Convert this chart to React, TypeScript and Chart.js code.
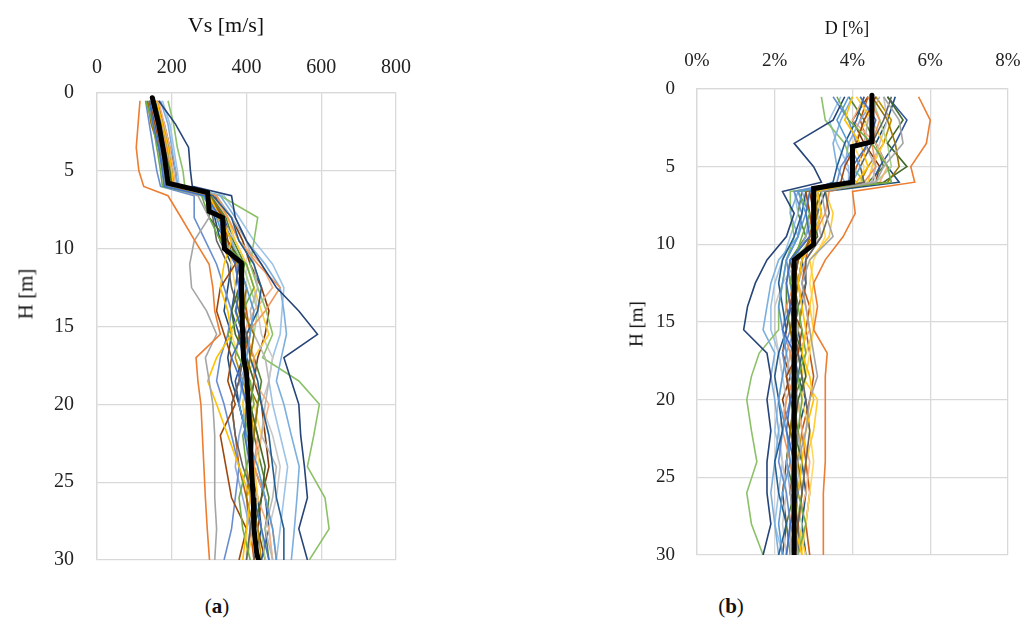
import React, { useEffect, useRef } from 'react';
import { Chart, registerables } from 'chart.js';
Chart.register(...registerables);

// Depth grid shared by all realizations [m]
const depths = [0.5, 2, 3.5, 5, 6, 6.6, 8, 9.5, 11, 12.5, 14, 15.5, 17, 18.5, 20, 22, 24, 26, 28, 30];

const colors = [
  '#4472C4', '#ED7D31', '#A5A5A5', '#FFC000', '#5B9BD5', '#70AD47', '#264478', '#9E480E', '#636363',
  '#997300', '#255E91', '#43682B', '#698ED0', '#F1975A', '#B7B7B7', '#FFCD33', '#7CAFDD', '#8CC168',
  '#8FAADC', '#F4B183', '#C9C9C9', '#FFD966', '#9DC3E6', '#A9D18E', '#2F5597', '#C55A11',
  '#BF9000', '#548235', '#1F4E79', '#843C0C',
];

// Vs realizations [m/s]
const vs01 = [140, 150, 165, 175, 180, 290, 330, 335, 370, 380, 372, 390, 360, 385, 400, 395, 410, 420, 440, 460];
const vs02 = [115, 110, 105, 112, 125, 190, 225, 262, 300, 310, 315, 330, 265, 270, 278, 282, 286, 290, 295, 301];
const vs03 = [150, 165, 175, 185, 190, 270, 300, 260, 248, 253, 293, 320, 290, 300, 310, 315, 315, 315, 320, 315];
const vs04 = [160, 175, 190, 200, 205, 300, 330, 360, 340, 330, 350, 360, 320, 296, 320, 350, 380, 410, 400, 390];
const vs05 = [145, 160, 170, 180, 185, 285, 320, 340, 380, 400, 420, 410, 400, 390, 380, 400, 430, 450, 470, 480];
const vs06 = [130, 150, 160, 170, 175, 280, 300, 330, 400, 420, 390, 350, 380, 410, 420, 390, 400, 380, 390, 410];
const vs07 = [165, 210, 245, 250, 255, 360, 370, 400, 440, 480, 540, 590, 500, 520, 540, 545, 555, 563, 540, 563];
const vs08 = [140, 155, 170, 185, 190, 290, 340, 350, 370, 330, 320, 340, 360, 350, 370, 330, 345, 360, 400, 380];
const vs09 = [150, 170, 180, 190, 195, 300, 310, 320, 350, 360, 380, 400, 390, 380, 360, 370, 390, 420, 410, 400];
const vs10 = [135, 145, 165, 180, 185, 300, 340, 330, 380, 400, 390, 420, 410, 400, 430, 420, 410, 400, 420, 430];
const vs11 = [155, 175, 190, 200, 205, 310, 360, 380, 420, 440, 430, 400, 410, 430, 440, 460, 470, 480, 500, 500];
const vs12 = [145, 165, 180, 195, 200, 300, 300, 350, 390, 380, 360, 370, 400, 420, 410, 430, 450, 440, 420, 430];
const vs13 = [130, 140, 150, 160, 170, 260, 260, 290, 320, 340, 360, 350, 330, 320, 340, 360, 380, 370, 360, 340];
const vs14 = [160, 170, 185, 195, 200, 320, 350, 380, 430, 490, 450, 400, 420, 420, 410, 430, 420, 450, 470, 480];
const vs15 = [155, 175, 190, 200, 205, 320, 360, 400, 420, 430, 410, 420, 450, 460, 450, 440, 480, 470, 450, 470];
const vs16 = [150, 165, 180, 190, 195, 320, 350, 370, 400, 420, 440, 460, 420, 400, 390, 410, 420, 430, 420, 400];
const vs17 = [170, 190, 200, 210, 215, 330, 370, 400, 450, 490, 500, 507, 493, 480, 500, 520, 541, 535, 528, 520];
const vs18 = [190, 205, 215, 230, 235, 330, 430, 420, 410, 430, 453, 470, 443, 540, 595, 580, 563, 610, 621, 568];
const vs19 = [140, 155, 165, 175, 180, 280, 330, 360, 380, 390, 380, 400, 410, 380, 400, 380, 370, 390, 410, 400];
const vs20 = [165, 180, 195, 205, 210, 310, 350, 380, 440, 470, 420, 390, 400, 420, 460, 440, 420, 430, 460, 470];
const vs21 = [145, 160, 175, 185, 190, 290, 330, 370, 400, 420, 430, 440, 470, 460, 440, 470, 490, 480, 460, 470];
const vs22 = [140, 150, 160, 175, 180, 290, 320, 350, 360, 370, 380, 360, 380, 410, 420, 440, 430, 410, 400, 400];
const vs23 = [175, 195, 205, 215, 220, 340, 380, 420, 470, 500, 495, 490, 470, 460, 470, 490, 510, 500, 490, 480];
const vs24 = [150, 170, 180, 195, 200, 300, 330, 360, 390, 410, 430, 420, 410, 400, 390, 400, 410, 420, 440, 450];
const vs25 = [145, 160, 170, 180, 185, 300, 340, 360, 380, 370, 360, 380, 390, 370, 380, 400, 420, 450, 460, 440];
const vs26 = [150, 165, 180, 190, 195, 300, 330, 360, 370, 380, 400, 410, 390, 380, 360, 370, 380, 400, 410, 420];
const vs27 = [135, 150, 170, 185, 190, 295, 325, 345, 375, 390, 400, 380, 370, 390, 410, 420, 400, 410, 430, 440];
const vs28 = [155, 170, 185, 195, 200, 305, 345, 365, 395, 385, 370, 390, 420, 440, 430, 420, 440, 460, 450, 460];
const vs29 = [150, 160, 175, 185, 190, 290, 315, 330, 360, 350, 340, 360, 350, 360, 380, 400, 410, 430, 440, 420];
const vs30 = [160, 180, 195, 210, 215, 315, 360, 390, 410, 440, 460, 450, 430, 420, 440, 450, 460, 440, 430, 450];
const vsSeries = [vs01, vs02, vs03, vs04, vs05, vs06, vs07, vs08, vs09, vs10, vs11, vs12, vs13, vs14, vs15,
  vs16, vs17, vs18, vs19, vs20, vs21, vs22, vs23, vs24, vs25, vs26, vs27, vs28, vs29, vs30];

// Mean Vs profile
const vsMeanDepth = [0.3, 2, 4, 5.8, 6.4, 7.6, 8, 10, 10.9, 13, 15, 17, 18, 20, 22, 24, 26, 28, 29.5, 30];
const vsMeanValue = [148, 165, 180, 190, 296, 300, 336, 341, 386, 387, 389, 392, 400, 405, 410, 413, 418, 420, 427, 432];

// Damping realizations [%]
const d01 = [4.2, 4.6, 4.4, 4.0, 3.9, 2.9, 2.8, 2.9, 2.4, 2.3, 2.4, 2.2, 2.5, 2.6, 2.4, 2.3, 2.5, 2.6, 2.4, 2.3];
const d02 = [5.7, 6.0, 5.9, 5.5, 5.6, 4.0, 4.07, 3.76, 3.3, 3.0, 3.1, 3.0, 3.35, 3.3, 3.3, 3.3, 3.3, 3.25, 3.25, 3.25];
const d03 = [4.8, 5.2, 5.3, 4.8, 4.6, 3.2, 3.3, 3.5, 2.9, 2.7, 2.8, 2.9, 3.0, 3.1, 2.9, 2.8, 2.6, 2.4, 2.5, 2.6];
const d04 = [4.0, 3.8, 4.2, 4.4, 4.1, 3.1, 3.2, 3.0, 2.7, 2.6, 2.7, 2.8, 2.7, 2.9, 3.0, 2.8, 2.7, 2.6, 2.5, 2.7];
const d05 = [3.9, 3.6, 3.9, 4.2, 4.0, 2.6, 2.8, 2.6, 2.3, 2.2, 2.1, 2.2, 2.3, 2.2, 2.1, 2.3, 2.4, 2.2, 2.1, 2.2];
const d06 = [3.6, 3.9, 4.5, 4.9, 5.0, 2.6, 2.9, 2.7, 2.5, 2.4, 2.6, 2.7, 2.8, 2.6, 2.7, 2.6, 2.5, 2.6, 2.8, 2.6];
const d07 = [3.8, 3.5, 2.5, 3.0, 3.2, 2.2, 2.5, 2.3, 1.8, 1.5, 1.3, 1.2, 1.8, 1.9, 1.8, 1.9, 1.8, 1.8, 1.9, 1.7];
const d08 = [4.6, 4.3, 4.1, 3.8, 3.7, 2.8, 2.9, 3.0, 2.6, 2.5, 2.4, 2.7, 2.6, 2.3, 2.4, 2.6, 2.5, 2.4, 2.6, 2.5];
const d09 = [5.0, 4.8, 4.5, 4.2, 4.3, 3.3, 3.4, 3.2, 2.8, 2.8, 2.6, 2.5, 2.6, 2.7, 2.8, 2.9, 2.8, 2.7, 2.6, 2.6];
const d10 = [4.5, 4.9, 5.1, 5.2, 4.9, 3.0, 3.1, 2.9, 2.7, 2.6, 2.5, 2.4, 2.5, 2.6, 2.5, 2.4, 2.6, 2.7, 2.6, 2.5];
const d11 = [4.3, 4.1, 3.8, 3.6, 3.5, 2.8, 2.7, 2.5, 2.2, 2.1, 2.2, 2.3, 2.1, 2.0, 2.1, 2.2, 2.0, 2.1, 2.3, 2.1];
const d12 = [4.9, 5.3, 4.9, 5.4, 4.8, 3.2, 3.0, 3.1, 2.6, 2.5, 2.6, 2.5, 2.7, 2.8, 2.6, 2.5, 2.7, 2.6, 2.5, 2.6];
const d13 = [3.5, 3.9, 4.1, 3.7, 3.6, 2.5, 2.7, 2.6, 2.3, 2.4, 2.5, 2.4, 2.2, 2.3, 2.4, 2.2, 2.1, 2.3, 2.4, 2.3];
const d14 = [4.4, 4.7, 4.5, 4.6, 4.3, 3.4, 3.3, 3.0, 2.6, 2.5, 2.3, 2.2, 2.4, 2.5, 2.3, 2.2, 2.4, 2.5, 2.4, 2.6];
const d15 = [4.7, 4.4, 4.3, 4.6, 4.5, 3.0, 3.0, 3.2, 2.8, 2.6, 2.5, 2.6, 2.4, 2.3, 2.5, 2.6, 2.7, 2.5, 2.4, 2.4];
const d16 = [4.1, 4.5, 4.8, 4.5, 4.4, 3.3, 3.5, 3.4, 2.9, 3.0, 2.9, 3.0, 2.8, 2.7, 3.1, 3.0, 2.8, 2.7, 2.6, 2.8];
const d17 = [4.0, 3.7, 3.5, 3.6, 3.8, 2.6, 2.4, 2.6, 2.1, 1.9, 1.8, 1.7, 2.0, 1.9, 2.0, 2.1, 2.0, 1.9, 2.0, 2.1];
const d18 = [3.2, 3.3, 3.8, 4.0, 4.3, 2.4, 2.4, 2.5, 2.3, 2.2, 2.1, 2.1, 1.6, 1.4, 1.28, 1.4, 1.54, 1.28, 1.4, 1.7];
const d19 = [4.6, 4.2, 3.9, 3.8, 4.1, 2.7, 2.9, 2.8, 2.5, 2.4, 2.6, 2.5, 2.3, 2.4, 2.6, 2.5, 2.3, 2.4, 2.5, 2.4];
const d20 = [4.3, 4.0, 4.6, 4.9, 4.7, 2.8, 2.9, 3.1, 2.7, 2.6, 2.8, 2.9, 2.6, 2.5, 2.6, 2.7, 2.9, 2.8, 2.6, 2.5];
const d21 = [4.8, 4.9, 4.7, 4.5, 4.6, 3.1, 3.1, 3.2, 2.6, 2.2, 2.0, 2.0, 2.1, 2.2, 2.3, 2.1, 2.2, 2.3, 2.2, 2.3];
const d22 = [4.2, 4.4, 4.0, 4.3, 4.2, 3.0, 3.2, 3.3, 3.0, 2.9, 3.0, 3.0, 2.9, 2.8, 2.7, 2.9, 3.0, 2.9, 2.8, 2.7];
const d23 = [3.7, 3.4, 3.6, 3.9, 3.9, 2.5, 2.6, 2.4, 2.2, 2.0, 1.9, 1.9, 2.1, 2.2, 2.1, 2.0, 2.2, 2.1, 2.0, 2.2];
const d24 = [4.5, 4.7, 4.9, 5.0, 4.6, 2.9, 2.8, 3.0, 2.5, 2.4, 2.5, 2.6, 2.4, 2.5, 2.4, 2.5, 2.6, 2.5, 2.7, 2.6];
const d25 = [4.9, 5.4, 5.1, 4.7, 4.5, 3.1, 3.2, 3.0, 2.7, 2.6, 2.4, 2.5, 2.6, 2.5, 2.4, 2.6, 2.5, 2.4, 2.5, 2.4];
const d26 = [4.4, 4.2, 4.4, 4.1, 4.0, 3.0, 3.1, 2.9, 2.8, 2.7, 2.9, 2.8, 2.9, 3.0, 2.9, 2.7, 2.8, 2.9, 2.8, 2.9];
const d27 = [4.6, 5.0, 4.8, 4.4, 4.2, 3.1, 3.0, 2.8, 2.5, 2.6, 2.7, 2.6, 2.5, 2.4, 2.6, 2.7, 2.6, 2.5, 2.6, 2.7];
const d28 = [3.9, 4.3, 4.6, 4.8, 4.4, 2.7, 2.6, 2.8, 2.4, 2.3, 2.3, 2.4, 2.6, 2.7, 2.5, 2.4, 2.3, 2.5, 2.3, 2.4];
const d29 = [5.1, 4.9, 4.6, 4.9, 5.2, 3.3, 3.1, 3.0, 2.7, 2.8, 2.7, 2.6, 2.7, 2.6, 2.8, 2.6, 2.7, 2.8, 2.7, 2.8];
const d30 = [4.4, 4.0, 4.3, 4.7, 4.6, 2.9, 3.0, 2.9, 2.4, 2.5, 2.4, 2.3, 2.2, 2.4, 2.2, 2.4, 2.3, 2.2, 2.3, 2.2];
const dSeries = [d01, d02, d03, d04, d05, d06, d07, d08, d09, d10, d11, d12, d13, d14, d15,
  d16, d17, d18, d19, d20, d21, d22, d23, d24, d25, d26, d27, d28, d29, d30];

// Mean damping profile
const dMeanDepth = [0.4, 3.4, 3.7, 6.0, 6.4, 10.0, 11.0, 30];
const dMeanValue = [4.5, 4.5, 4.0, 4.0, 3.0, 3.0, 2.5, 2.5];

// Axis ticks
const depthTicks = [0, 5, 10, 15, 20, 25, 30];
const vsTicks = [0, 200, 400, 600, 800];
const dTicks = [0, 2, 4, 6, 8];

const FONT = "'Liberation Serif', 'Times New Roman', serif";
const GRID = '#d9d9d9';

type PanelProps = {
  left: number;
  width: number;
  height: number;
  series: number[][];
  meanDepth: number[];
  meanValue: number[];
  xTicks: number[];
  xFmt: (v: number) => string;
  yAxisWidth: number;
  xAxisHeight: number;
  padRight: number;
  padBottom: number;
  fontSize: number;
  yPad: number;
  xPad: number;
};

const zeroPad = (scale: any) => {
  scale.paddingTop = 0;
  scale.paddingBottom = 0;
  scale.paddingLeft = 0;
  scale.paddingRight = 0;
};

function Panel(p: PanelProps) {
  const ref = useRef<HTMLCanvasElement | null>(null);
  useEffect(() => {
    if (!ref.current) return;
    const datasets: any[] = [
      {
        label: 'mean',
        data: p.meanDepth.map((d, i) => ({ x: p.meanValue[i], y: d })),
        borderColor: '#000000',
        borderWidth: 5,
        borderCapStyle: 'round',
        borderJoinStyle: 'miter',
        pointRadius: 0,
        showLine: true,
        order: 0,
      },
    ];
    p.series.forEach((s, k) => {
      datasets.push({
        label: 'r' + (k + 1),
        data: depths.map((d, i) => ({ x: s[i], y: d })),
        borderColor: colors[k % colors.length],
        borderWidth: 1.6,
        pointRadius: 0,
        showLine: true,
        order: 1,
      });
    });
    const xmin = p.xTicks[0];
    const xmax = p.xTicks[p.xTicks.length - 1];
    const chart = new Chart(ref.current, {
      type: 'scatter',
      data: { datasets },
      options: {
        animation: false,
        responsive: true,
        maintainAspectRatio: false,
        layout: { padding: { left: 0, top: 0, right: p.padRight, bottom: p.padBottom } },
        plugins: { legend: { display: false }, tooltip: { enabled: false } },
        scales: {
          x: {
            type: 'linear',
            position: 'top',
            min: xmin,
            max: xmax,
            afterFit: (scale: any) => { scale.height = p.xAxisHeight; zeroPad(scale); },
            afterBuildTicks: (scale: any) => { scale.ticks = p.xTicks.map((v) => ({ value: v })); },
            ticks: {
              font: { family: FONT, size: p.fontSize },
              color: '#222',
              padding: p.xPad,
              callback: (v: any) => p.xFmt(Number(v)),
            },
            grid: { color: GRID, lineWidth: 1.3, drawTicks: false },
            border: { color: GRID, width: 1.3 },
          },
          y: {
            type: 'linear',
            reverse: true,
            min: 0,
            max: 30,
            afterFit: (scale: any) => { scale.width = p.yAxisWidth; zeroPad(scale); },
            afterBuildTicks: (scale: any) => { scale.ticks = depthTicks.map((v) => ({ value: v })); },
            ticks: {
              font: { family: FONT, size: p.fontSize },
              color: '#222',
              padding: p.yPad,
            },
            grid: { color: GRID, lineWidth: 1.3, drawTicks: false },
            border: { color: GRID, width: 1.3 },
          },
        },
      } as any,
    });
    return () => chart.destroy();
  }, []);
  return (
    <div style={{ position: 'absolute', left: p.left, top: 0, width: p.width, height: p.height }}>
      <canvas ref={ref} />
    </div>
  );
}

const txt = (extra: React.CSSProperties): React.CSSProperties => ({
  position: 'absolute',
  fontFamily: FONT,
  color: '#111',
  whiteSpace: 'nowrap',
  lineHeight: 1,
  ...extra,
});

export default function App() {
  return (
    <div style={{ position: 'absolute', left: 0, top: 0, width: 1036, height: 623, background: '#fff', overflow: 'hidden' }}>
      <Panel
        left={0}
        width={420}
        height={580}
        series={vsSeries}
        meanDepth={vsMeanDepth}
        meanValue={vsMeanValue}
        xTicks={vsTicks}
        xFmt={(v) => String(v)}
        yAxisWidth={97}
        xAxisHeight={93}
        padRight={24}
        padBottom={20}
        fontSize={20}
        yPad={23}
        xPad={13}
      />
      <Panel
        left={600}
        width={436}
        height={580}
        series={dSeries}
        meanDepth={dMeanDepth}
        meanValue={dMeanValue}
        xTicks={dTicks}
        xFmt={(v) => v + '%'}
        yAxisWidth={97}
        xAxisHeight={89}
        padRight={28}
        padBottom={25}
        fontSize={19}
        yPad={22}
        xPad={17}
      />
      {/* axis titles */}
      <div style={txt({ left: 226, top: 25, fontSize: 22, transform: 'translate(-50%, -50%)' })}>Vs [m/s]</div>
      <div style={txt({ left: 26, top: 294, fontSize: 21, transform: 'translate(-50%, -50%) rotate(-90deg)' })}>H [m]</div>
      <div style={txt({ left: 847, top: 28, fontSize: 18, transform: 'translate(-50%, -50%)' })}>D [%]</div>
      <div style={txt({ left: 636, top: 324, fontSize: 19, transform: 'translate(-50%, -50%) rotate(-90deg)' })}>H [m]</div>
      {/* panel labels */}
      <div style={txt({ left: 217, top: 606, fontSize: 21, transform: 'translate(-50%, -50%)' })}>(<b>a</b>)</div>
      <div style={txt({ left: 731, top: 606, fontSize: 21, transform: 'translate(-50%, -50%)' })}>(<b>b</b>)</div>
    </div>
  );
}
